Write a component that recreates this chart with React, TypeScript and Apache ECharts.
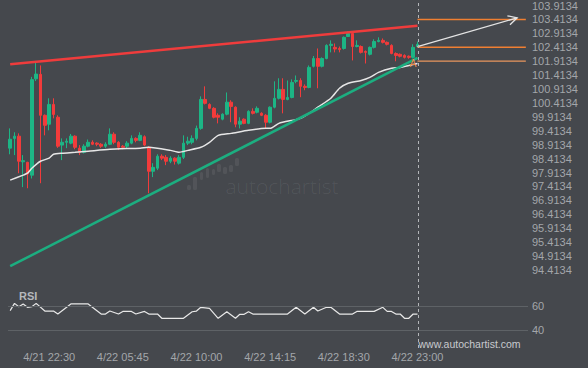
import React, { useEffect, useRef } from "react";
import * as echarts from "echarts";

// ---- data ----
const opens = [98.79, 99.14, 99.22, 98.30, 98.28, 97.82, 101.28, 101.44, 99.97, 99.65, 100.36, 99.90, 98.90, 99.00, 98.97, 99.22, 98.79, 98.64, 98.86, 99.00, 98.97, 98.93, 98.86, 98.93, 99.29, 99.00, 98.86, 98.86, 98.97, 99.14, 99.07, 99.20, 98.82, 97.96, 98.07, 98.50, 98.46, 98.32, 98.43, 98.25, 98.46, 98.97, 99.00, 99.14, 99.50, 100.54, 100.36, 100.22, 99.97, 99.83, 100.01, 100.44, 100.26, 99.65, 99.83, 99.68, 100.11, 100.08, 100.04, 99.97, 99.72, 100.26, 100.58, 100.90, 100.54, 100.61, 101.19, 101.22, 101.01, 100.97, 101.73, 102.01, 101.73, 102.01, 102.48, 102.41, 102.37, 102.37, 102.80, 102.91, 102.44, 102.44, 102.26, 102.16, 102.41, 102.62, 102.66, 102.59, 102.48, 102.19, 102.16, 102.12, 102.09, 102.05, 102.44];
const closes = [99.11, 99.22, 98.32, 98.34, 97.86, 101.25, 101.45, 99.97, 99.61, 100.36, 100.00, 98.86, 99.00, 99.04, 99.22, 98.82, 98.64, 98.86, 99.00, 98.93, 98.93, 98.86, 98.93, 99.29, 99.00, 98.82, 98.82, 98.97, 99.14, 99.07, 99.25, 98.90, 97.96, 98.10, 98.50, 98.43, 98.32, 98.43, 98.32, 98.46, 98.97, 99.04, 99.14, 99.50, 100.54, 100.40, 100.22, 99.90, 99.90, 100.01, 100.44, 100.29, 99.65, 99.76, 99.68, 100.11, 100.04, 100.22, 99.97, 99.72, 100.26, 100.58, 100.90, 100.54, 100.61, 101.15, 101.22, 101.01, 100.97, 101.69, 102.01, 101.73, 102.01, 102.48, 102.52, 102.35, 102.33, 102.77, 102.91, 102.44, 102.48, 102.23, 102.23, 102.41, 102.62, 102.66, 102.59, 102.52, 102.19, 102.12, 102.09, 102.05, 102.05, 102.41, 102.52];
const lows = [98.57, 98.54, 97.89, 97.39, 97.35, 97.70, 101.20, 97.53, 99.25, 99.43, 99.86, 98.80, 98.36, 98.79, 98.93, 98.75, 98.54, 98.60, 98.82, 98.90, 98.86, 98.80, 98.80, 98.90, 98.93, 98.72, 98.75, 98.79, 98.93, 99.00, 99.04, 98.86, 97.17, 97.75, 98.00, 98.36, 98.18, 98.25, 98.20, 98.20, 98.40, 98.90, 98.93, 99.07, 99.45, 100.36, 100.19, 99.86, 99.68, 99.79, 99.97, 99.72, 99.54, 99.50, 99.65, 99.65, 100.00, 100.04, 99.94, 99.50, 99.68, 100.22, 100.54, 100.04, 100.51, 100.58, 101.12, 100.62, 100.87, 100.94, 101.69, 100.94, 101.69, 101.98, 102.23, 102.23, 102.23, 102.33, 102.80, 101.94, 102.41, 102.19, 101.83, 102.12, 102.37, 102.59, 102.55, 102.48, 102.16, 101.91, 102.05, 102.01, 102.00, 102.01, 102.41];
const highs = [99.50, 99.36, 99.32, 98.54, 98.30, 101.35, 101.88, 101.76, 100.00, 100.58, 100.58, 99.97, 99.14, 99.14, 99.30, 99.25, 98.90, 98.93, 99.10, 99.07, 99.00, 98.97, 99.00, 99.50, 99.36, 99.04, 98.90, 99.04, 99.25, 99.18, 99.36, 99.25, 98.86, 98.25, 98.57, 98.57, 98.54, 98.50, 98.46, 98.54, 99.25, 99.20, 99.25, 99.60, 100.65, 101.01, 100.40, 100.26, 100.04, 100.04, 100.79, 100.51, 100.29, 99.90, 99.86, 100.15, 100.22, 100.29, 100.08, 100.01, 100.29, 101.19, 101.30, 101.30, 101.22, 101.26, 101.40, 101.30, 101.08, 101.76, 102.10, 102.37, 102.05, 102.52, 102.66, 102.55, 102.44, 102.80, 102.98, 102.95, 102.66, 102.48, 102.30, 102.44, 102.70, 102.77, 102.73, 102.62, 102.52, 102.23, 102.19, 102.16, 102.12, 102.52, 102.62];

const maPoints = [[0, 97.64], [3, 97.82], [4, 97.89], [5, 98.07], [7, 98.32], [9, 98.43], [10, 98.57], [12, 98.61], [15, 98.64], [18, 98.68], [23, 98.75], [30, 98.79], [32, 98.82], [37, 98.71], [39, 98.64], [41, 98.71], [44, 98.82], [46, 99.0], [48, 99.25], [51, 99.32], [55, 99.43], [59, 99.5], [60, 99.5], [62, 99.68], [67, 99.86], [69, 100.04], [71, 100.26], [74, 100.58], [76, 100.94], [78, 101.12], [81, 101.22], [83, 101.33], [85, 101.51], [88, 101.66], [90, 101.69], [92, 101.76], [94, 101.83]];

const rsiPoints = [[0, 56.1], [1, 62.2], [2, 59.4], [3, 61.7], [4, 58.9], [5, 59.4], [6, 62.2], [8, 55.8], [10, 55.8], [11, 53.3], [14, 61.7], [18, 61.7], [21, 53.3], [22, 53.3], [23, 55.8], [25, 53.3], [26, 55.5], [28, 55.5], [29, 53.3], [31, 55.5], [32, 53.3], [34, 53.3], [35, 49.75], [40, 49.75], [42, 55.2], [43, 55.8], [44, 58.9], [46, 58.1], [48, 49.75], [50, 55.2], [52, 49.75], [53, 53.1], [54, 53.1], [55, 55.2], [56, 53.3], [64, 53.3], [66, 58.9], [68, 53.3], [70, 58.9], [71, 55.8], [73, 58.9], [74, 58.9], [76, 53.3], [79, 53.3], [80, 55.5], [84, 55.5], [86, 58.9], [87, 55.5], [88, 55.5], [89, 53.3], [90, 53.3], [91, 49.75], [92, 49.75], [93, 53.3], [94, 53.3]];

const resistance = [[0, 101.80], [94, 103.19]];
const support = [[0, 94.55], [94, 102.03]];
const levels = [103.4134, 102.4134, 101.9134];
const levelStart = 94;
const levelEnd = 119;
const arrowFrom = [94, 102.44];
const arrowTo = [117, 103.47];
const patternMark = [93, 101.83];
const patternLabel = "A";

const tickIndices = [9, 26, 43, 60, 77, 94];
const tickLabels = ["4/21 22:30", "4/22 05:45", "4/22 10:00", "4/22 14:15", "4/22 18:30", "4/22 23:00"];

const priceMin = 94.4134;
const priceMax = 103.9134;
const priceStep = 0.5;
const rsiShown = [40, 60];
const SLOTS = 120;

const FONT = "'Liberation Sans', Arial, sans-serif";
const BG = "#45484d";
const GREEN = "#1db585";
const RED = "#f23b3b";
const ORANGE = "#f07f32";
const LABEL = "#a3a6aa";

export default function App() {
  const ref = useRef<HTMLDivElement>(null);
  useEffect(() => {
    if (!ref.current) return;
    const chart = echarts.init(ref.current, undefined, { renderer: "svg" });
    const categories = Array.from({ length: SLOTS }, (_, i) => String(i));
    const candles = opens.map((o, i) => [o, closes[i], lows[i], highs[i]]);

    const lineSeries = (data: number[][], color: string, width: number, z = 4) => ({
      type: "line",
      xAxisIndex: 0,
      yAxisIndex: 0,
      data,
      symbol: "none",
      silent: true,
      z,
      lineStyle: { color, width },
    });

    const option: any = {
      animation: false,
      backgroundColor: BG,
      title: {
        text: "RSI",
        left: 14,
        top: 285,
        textStyle: { color: "#b5b8bc", fontSize: 11, fontWeight: "bold", fontFamily: FONT },
      },
      grid: [
        { left: 8, width: 520, top: 5, height: 265 },
        { left: 8, width: 520, top: 294, height: 48 },
      ],
      xAxis: [
        { type: "category", gridIndex: 0, data: categories, show: false },
        {
          type: "category",
          gridIndex: 1,
          data: categories,
          axisLine: { show: false },
          axisTick: { show: false },
          axisLabel: {
            interval: (idx: number) => tickIndices.includes(idx),
            formatter: (v: string) => {
              const k = tickIndices.indexOf(Number(v));
              return k >= 0 ? tickLabels[k] : "";
            },
            color: LABEL,
            fontSize: 11,
            fontFamily: FONT,
            margin: 9,
          },
        },
      ],
      yAxis: [
        {
          type: "value",
          gridIndex: 0,
          position: "right",
          min: priceMin,
          max: priceMax,
          interval: priceStep,
          splitLine: { show: false },
          axisLine: { show: false },
          axisTick: { show: false },
          axisLabel: {
            formatter: (v: number) => (priceMin + Math.round((v - priceMin) / priceStep) * priceStep).toFixed(4),
            color: LABEL,
            fontSize: 11,
            fontFamily: FONT,
            margin: 4,
          },
        },
        {
          type: "value",
          gridIndex: 1,
          position: "right",
          min: 30,
          max: 70,
          interval: 10,
          splitLine: { show: false },
          axisLine: { show: false },
          axisTick: { show: false },
          axisLabel: {
            formatter: (v: number) => (rsiShown.includes(v) ? String(v) : ""),
            color: LABEL,
            fontSize: 11,
            fontFamily: FONT,
            margin: 4,
          },
        },
      ],
      series: [
        {
          type: "candlestick",
          xAxisIndex: 0,
          yAxisIndex: 0,
          data: candles,
          barWidth: "78%",
          z: 2,
          itemStyle: {
            color: GREEN,
            color0: RED,
            borderColor: GREEN,
            borderColor0: RED,
            borderWidth: 1,
          },
        },
        { ...lineSeries(maPoints, "#e6e6e6", 1.5, 3), smooth: 0.2 },
        lineSeries(resistance, "#ef3c3c", 2.5),
        lineSeries(support, "#1cae80", 2.5),
        ...levels.map((lv, k) =>
          lineSeries([[levelStart, lv], [levelEnd, lv]], k === 2 ? "#e9965e" : ORANGE, k === 2 ? 1.2 : 1.5, 5)
        ),
        {
          type: "custom",
          xAxisIndex: 0,
          yAxisIndex: 0,
          data: [arrowFrom],
          silent: true,
          z: 6,
          renderItem: (_p: any, api: any) => {
            const p0 = api.coord(arrowFrom);
            const p1 = api.coord(arrowTo);
            const dx = p1[0] - p0[0];
            const dy = p1[1] - p0[1];
            const len = Math.hypot(dx, dy);
            const ux = dx / len;
            const uy = dy / len;
            const a = (28 * Math.PI) / 180;
            const L = 10;
            const w1 = [p1[0] - L * (ux * Math.cos(a) - uy * Math.sin(a)), p1[1] - L * (ux * Math.sin(a) + uy * Math.cos(a))];
            const w2 = [p1[0] - L * (ux * Math.cos(-a) - uy * Math.sin(-a)), p1[1] - L * (ux * Math.sin(-a) + uy * Math.cos(-a))];
            return {
              type: "group",
              children: [
                { type: "line", shape: { x1: p0[0], y1: p0[1], x2: p1[0], y2: p1[1] }, style: { stroke: "#e4e4e4", lineWidth: 1.3 } },
                { type: "polyline", shape: { points: [w1, p1, w2] }, style: { stroke: "#e4e4e4", lineWidth: 1.3, fill: null } },
              ],
            };
          },
        },
        {
          type: "custom",
          xAxisIndex: 0,
          yAxisIndex: 0,
          data: [patternMark],
          silent: true,
          z: 6,
          renderItem: (_p: any, api: any) => {
            const p = api.coord(patternMark);
            return {
              type: "text",
              x: p[0],
              y: p[1],
              style: { text: patternLabel, fill: "#ec8a48", fontSize: 10, fontFamily: FONT, align: "center", verticalAlign: "middle" },
            };
          },
        },
        {
          type: "line",
          xAxisIndex: 1,
          yAxisIndex: 1,
          data: rsiPoints,
          symbol: "none",
          silent: true,
          lineStyle: { color: "#e8e8e8", width: 1.2 },
          markLine: {
            silent: true,
            symbol: "none",
            label: { show: false },
            lineStyle: { color: "#5e6266", width: 1, type: "solid" },
            data: rsiShown.map((v) => ({ yAxis: v })),
          },
        },
      ],
    };
    chart.setOption(option);

    const xr = (chart.convertToPixel({ xAxisIndex: 0 }, levelStart) as number) + 1;
    const logo = [
      [187, 185, 4, 5], [193, 177, 4, 13], [200, 172, 3, 8], [206, 168, 3, 10], [212, 169, 3, 6],
      [217, 164, 4, 8], [223, 167, 4, 7], [229, 165, 4, 7], [235, 158, 4, 8],
    ];
    chart.setOption({
      graphic: [
        ...logo.map(([x, y, w, h]) => ({
          type: "rect",
          z: 0,
          silent: true,
          shape: { x, y, width: w, height: h, r: 1.5 },
          style: { fill: "rgba(255,255,255,0.07)" },
        })),
        {
          type: "text",
          z: 0,
          silent: true,
          x: 282,
          y: 186,
          style: {
            text: "autochartist",
            fill: "rgba(255,255,255,0.08)",
            fontSize: 21,
            fontWeight: 300,
            fontFamily: "'Open Sans', Lato, sans-serif",
            align: "center",
            verticalAlign: "middle",
          },
        },
        {
          type: "line",
          z: 10,
          silent: true,
          shape: { x1: xr, y1: 3, x2: xr, y2: 350 },
          style: { stroke: "#b4b6b9", lineWidth: 1, lineDash: [3, 3] },
        },
        {
          type: "text",
          z: 10,
          silent: true,
          x: xr,
          y: 344,
          style: {
            text: "www.autochartist.com",
            fill: "#c8cacd",
            fontSize: 10.5,
            fontFamily: FONT,
            align: "left",
            verticalAlign: "middle",
          },
        },
      ],
    });

    return () => chart.dispose();
  }, []);
  return <div ref={ref} style={{ width: 588, height: 368, position: "absolute", left: 0, top: 0 }} />;
}
